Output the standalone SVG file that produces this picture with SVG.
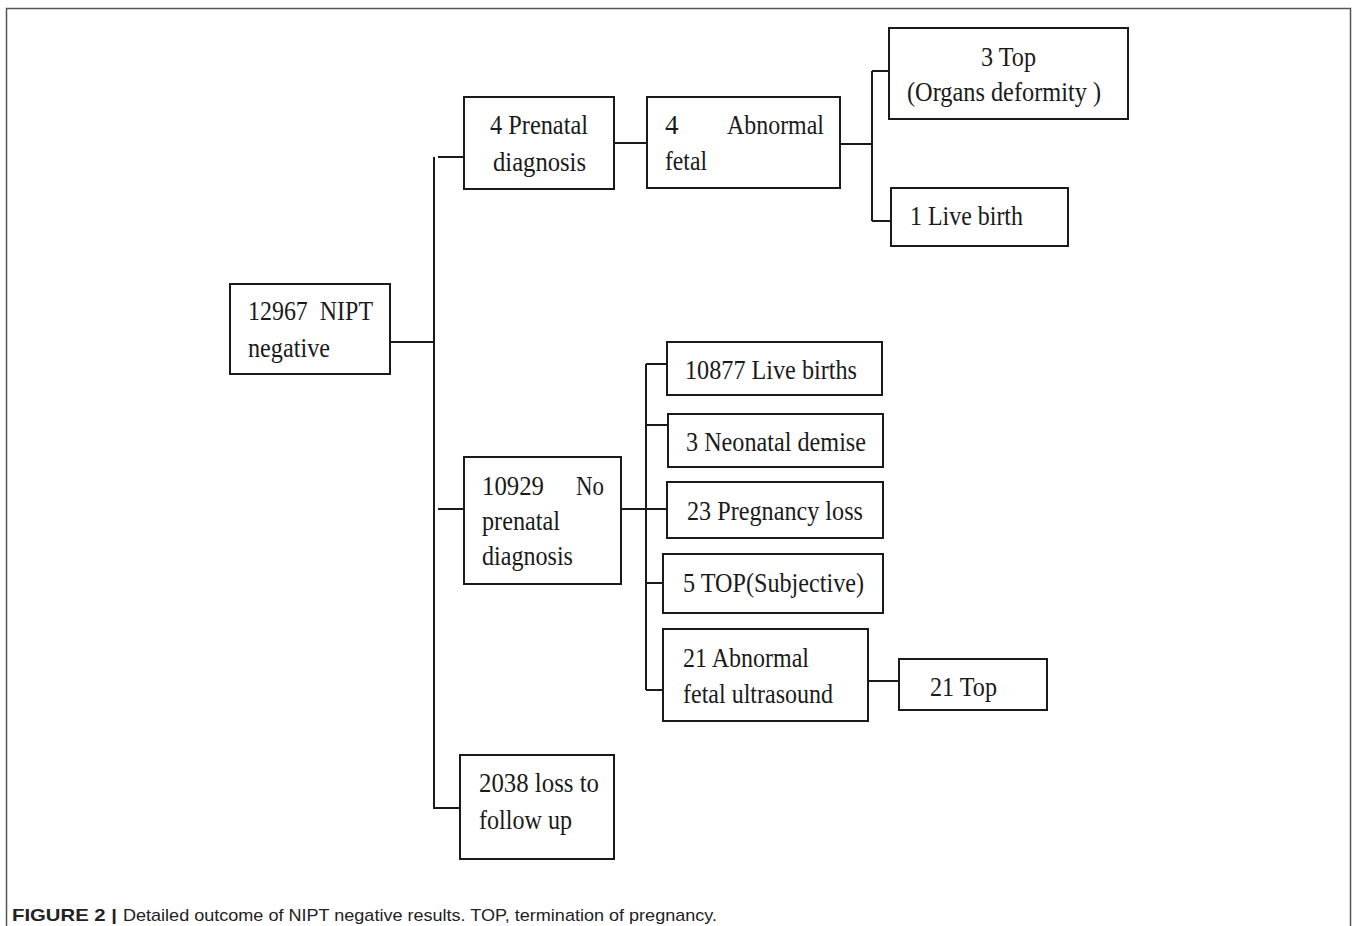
<svg xmlns="http://www.w3.org/2000/svg" width="1357" height="926" viewBox="0 0 1357 926">
<style>
.frame{fill:none;stroke:#555;stroke-width:1.5}
.box{fill:#fff;stroke:#1a1a1a;stroke-width:2}
.conn{fill:none;stroke:#1a1a1a;stroke-width:2}
.t{font-family:"Liberation Serif","Times New Roman",serif;font-size:27px;fill:#1a1a1a;white-space:pre}
.cap{font-family:"Liberation Sans",Arial,sans-serif;font-size:17px;fill:#222}
.capb{font-weight:bold}
</style>
<rect x="0" y="0" width="1357" height="926" fill="#fff"/>
<rect class="frame" x="6.5" y="8.5" width="1344" height="940"/>
<g id="connectors">
<path class="conn" d="M390,342 H434 M438,157 H464 M434,157 V808 H460 M438,509 H464"/>
<path class="conn" d="M614,143 H647 M840,144 H872 M872,71 V221 M872,71 H889 M872,221 H891"/>
<path class="conn" d="M621,509 H646 M646,364 V690 M646,364 H667 M646,425 H667 M646,509 H667 M646,583 H664 M646,690 H664 M868,681 H899"/>
</g>
<g id="n-root"><rect class="box" x="230" y="284" width="160" height="90"/>
<text class="t" x="248" y="320" textLength="125" lengthAdjust="spacingAndGlyphs" xml:space="preserve">12967  NIPT</text>
<text class="t" x="248" y="357" textLength="82" lengthAdjust="spacingAndGlyphs">negative</text></g>
<g id="n-prenatal"><rect class="box" x="464" y="97" width="150" height="92"/>
<text class="t" x="490" y="134" textLength="98" lengthAdjust="spacingAndGlyphs">4 Prenatal</text>
<text class="t" x="493" y="171" textLength="93" lengthAdjust="spacingAndGlyphs">diagnosis</text></g>
<g id="n-abnormal"><rect class="box" x="647" y="97" width="193" height="91"/>
<text class="t" x="665" y="134">4</text>
<text class="t" x="727" y="134" textLength="97" lengthAdjust="spacingAndGlyphs">Abnormal</text>
<text class="t" x="665" y="170" textLength="42" lengthAdjust="spacingAndGlyphs">fetal</text></g>
<g id="n-top3"><rect class="box" x="889" y="28" width="239" height="91"/>
<text class="t" x="981" y="66" textLength="55" lengthAdjust="spacingAndGlyphs">3 Top</text>
<text class="t" x="907" y="101" textLength="194" lengthAdjust="spacingAndGlyphs">(Organs deformity )</text></g>
<g id="n-live1"><rect class="box" x="891" y="188" width="177" height="58"/>
<text class="t" x="910" y="225" textLength="113" lengthAdjust="spacingAndGlyphs">1 Live birth</text></g>
<g id="n-noprenatal"><rect class="box" x="464" y="457" width="157" height="127"/>
<text class="t" x="482" y="495" textLength="62" lengthAdjust="spacingAndGlyphs">10929</text>
<text class="t" x="576" y="495" textLength="28" lengthAdjust="spacingAndGlyphs">No</text>
<text class="t" x="482" y="530" textLength="78" lengthAdjust="spacingAndGlyphs">prenatal</text>
<text class="t" x="482" y="565" textLength="91" lengthAdjust="spacingAndGlyphs">diagnosis</text></g>
<g id="n-livebirths"><rect class="box" x="667" y="342" width="215" height="53"/>
<text class="t" x="685" y="379" textLength="172" lengthAdjust="spacingAndGlyphs">10877 Live births</text></g>
<g id="n-neonatal"><rect class="box" x="668" y="414" width="215" height="53"/>
<text class="t" x="686" y="451" textLength="180" lengthAdjust="spacingAndGlyphs">3 Neonatal demise</text></g>
<g id="n-loss"><rect class="box" x="667" y="482" width="216" height="56"/>
<text class="t" x="687" y="520" textLength="176" lengthAdjust="spacingAndGlyphs">23 Pregnancy loss</text></g>
<g id="n-topsubj"><rect class="box" x="663" y="554" width="220" height="59"/>
<text class="t" x="683" y="592" textLength="181" lengthAdjust="spacingAndGlyphs">5 TOP(Subjective)</text></g>
<g id="n-abnus"><rect class="box" x="663" y="629" width="205" height="92"/>
<text class="t" x="683" y="667" textLength="126" lengthAdjust="spacingAndGlyphs">21 Abnormal</text>
<text class="t" x="683" y="703" textLength="150" lengthAdjust="spacingAndGlyphs">fetal ultrasound</text></g>
<g id="n-top21"><rect class="box" x="899" y="659" width="148" height="51"/>
<text class="t" x="930" y="696" textLength="67" lengthAdjust="spacingAndGlyphs">21 Top</text></g>
<g id="n-lost"><rect class="box" x="460" y="755" width="154" height="104"/>
<text class="t" x="479" y="792" textLength="120" lengthAdjust="spacingAndGlyphs">2038 loss to</text>
<text class="t" x="479" y="829" textLength="93" lengthAdjust="spacingAndGlyphs">follow up</text></g>
<text class="cap capb" x="12" y="921" textLength="105" lengthAdjust="spacingAndGlyphs">FIGURE 2 |</text>
<text class="cap" x="123" y="921" textLength="594" lengthAdjust="spacingAndGlyphs">Detailed outcome of NIPT negative results. TOP, termination of pregnancy.</text>
</svg>
